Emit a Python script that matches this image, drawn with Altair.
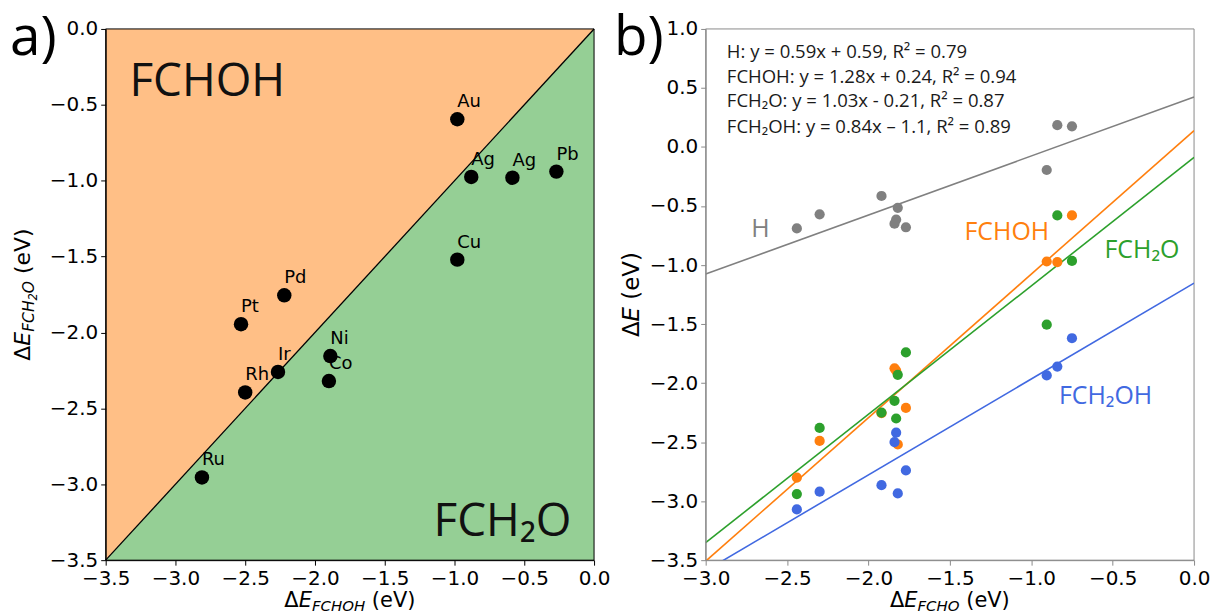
import altair as alt
import pandas as pd

# ---------------- Panel a data ----------------
metals_a = ["Au", "Ag", "Ag", "Pb", "Cu", "Pd", "Pt", "Ir", "Rh", "Ni", "Co", "Ru"]
fchoh_a = [-0.98, -0.88, -0.585, -0.27, -0.98, -2.22, -2.53, -2.265, -2.50, -1.89, -1.90, -2.81]
fch2o_a = [-0.595, -0.975, -0.98, -0.94, -1.52, -1.755, -1.945, -2.26, -2.395, -2.155, -2.32, -2.955]
boundary_x = [-3.5, 0.0]
boundary_top = [0.0, 0.0]
boundary_bottom = [-3.5, -3.5]
region_text = ["FCHOH", "FCH\u2082O"]
region_x = [-3.33, -1.15]
region_y = [-0.44, -3.34]
ticks_a_x = [-3.5, -3.0, -2.5, -2.0, -1.5, -1.0, -0.5, 0.0]
ticks_a_y = [-3.5, -3.0, -2.5, -2.0, -1.5, -1.0, -0.5, 0.0]

# ---------------- Panel b data ----------------
metals_b = ["Ru", "Rh", "Ir", "Ni", "Co", "Pt", "Pd", "Cu", "Au", "Ag"]
fcho_b = [-2.44, -2.30, -1.92, -1.84, -1.83, -1.82, -1.77, -0.905, -0.84, -0.75]
h_b = [-0.69, -0.57, -0.415, -0.65, -0.615, -0.515, -0.68, -0.195, 0.185, 0.175]
fchoh_b = [-2.80, -2.49, -2.255, -1.875, -1.895, -2.52, -2.21, -0.97, -0.975, -0.58]
fch2o_b = [-2.94, -2.38, -2.25, -2.15, -2.30, -1.93, -1.74, -1.505, -0.58, -0.965]
fch2oh_b = [-3.07, -2.92, -2.865, -2.50, -2.42, -2.935, -2.74, -1.935, -1.86, -1.62]
series_names = ["H", "FCHOH", "FCH2O", "FCH2OH"]
series_colors = ["#808080", "#ff7f0e", "#2ca02c", "#4169e1"]
series_labels = ["H", "FCHOH", "FCH\u2082O", "FCH\u2082OH"]
label_x = [-2.72, -1.41, -0.55, -0.83]
label_y = [-0.76, -0.79, -0.94, -2.18]
equations = [
    "H: y = 0.59x + 0.59, R\u00b2 = 0.79",
    "FCHOH: y = 1.28x + 0.24, R\u00b2 = 0.94",
    "FCH\u2082O: y = 1.03x - 0.21, R\u00b2 = 0.87",
    "FCH\u2082OH: y = 0.84x \u2013 1.1, R\u00b2 = 0.89",
]
eq_x = [-2.87, -2.87, -2.87, -2.87]
eq_y = [0.755, 0.545, 0.335, 0.12]
ticks_b_x = [-3.0, -2.5, -2.0, -1.5, -1.0, -0.5, 0.0]
ticks_b_y = [-3.5, -3.0, -2.5, -2.0, -1.5, -1.0, -0.5, 0.0, 0.5, 1.0]

W, H = 490, 533
one = pd.DataFrame({"k": [0]})
SANS = "Open Sans, DejaVu Sans"

# --- helper for mathtext-like axis titles ---
DV = {"Δ": 0.684, "E": 0.632, "F": 0.575, "C": 0.698, "H": 0.752, "O": 0.787,
      " ": 0.318, "(": 0.390, ")": 0.390, "e": 0.615, "V": 0.684, "2": 0.636}


def wid(s, size):
    return sum(DV[c] for c in s) * size


def rich(pieces, ax, ay, angle=0):
    total = sum(wid(t, s) for t, s, _, _ in pieces)
    off = -total / 2
    layers = []
    for t, s, it, sh in pieces:
        if t.strip():
            layers.append(
                alt.Chart(one).mark_text(
                    text=t, font="DejaVu Sans", fontSize=s,
                    fontStyle="italic" if it else "normal",
                    align="left", baseline="alphabetic", angle=angle,
                    dx=off, dy=sh, color="black",
                ).encode(x=alt.value(ax), y=alt.value(ay))
            )
        off += wid(t, s)
    return layers


def axis(values, color):
    return alt.Axis(values=values, format=".1f", title=None, grid=False,
                    tickSize=5, tickColor=color, domainColor=color,
                    labelFont="DejaVu Sans", labelFontSize=20, labelColor="black",
                    labelPadding=3, labelFlush=False, labelOverlap=False, zindex=1)


TS, SS, SSS = 21, 15, 11  # title, subscript, sub-subscript sizes
YS, YSS, YSSS = 22, 15.5, 11.5

# ================= Panel a =================
df_a = pd.DataFrame({"x": fchoh_a, "y": fch2o_a, "metal": metals_a})
df_reg = pd.DataFrame({"x": boundary_x, "y": boundary_x, "top": boundary_top, "bottom": boundary_bottom})
df_rt = pd.DataFrame({"x": region_x, "y": region_y, "t": region_text})

xa = alt.X("x:Q", scale=alt.Scale(domain=[-3.5, 0], nice=False, zero=False), axis=axis(ticks_a_x, "black"))
ya = alt.Y("y:Q", scale=alt.Scale(domain=[-3.5, 0], nice=False, zero=False), axis=axis(ticks_a_y, "black"))

orange_area = alt.Chart(df_reg).mark_area(color="#ffbf86", opacity=1).encode(x=xa, y=ya, y2="top:Q")
green_area = alt.Chart(df_reg).mark_area(color="#95cf95", opacity=1).encode(x=xa, y=ya, y2="bottom:Q")
diag = alt.Chart(df_reg).mark_line(color="black", strokeWidth=1.3).encode(x=xa, y=ya)
pts_a = alt.Chart(df_a).mark_circle(size=210, color="black", opacity=1).encode(x=xa, y=ya)
lbl_a = alt.Chart(df_a).mark_text(font="DejaVu Sans", fontSize=18, color="black", align="left",
                                  baseline="alphabetic", dx=0, dy=-12).encode(x=xa, y=ya, text="metal:N")
big_a = alt.Chart(df_rt).mark_text(font=SANS, fontSize=46, color="#111111", align="left",
                                   baseline="alphabetic").encode(x=xa, y=ya, text="t:N")
frame_a = alt.Chart(one).mark_rect(filled=False, stroke="black", strokeWidth=1).encode(
    x=alt.value(0), x2=alt.value(W), y=alt.value(0), y2=alt.value(H))
tag_a = alt.Chart(one).mark_text(text="a)", font=SANS, fontSize=55, color="black", align="left",
                                 baseline="alphabetic").encode(x=alt.value(-96), y=alt.value(26))

left = alt.layer(
    orange_area, green_area, diag, pts_a, lbl_a, big_a, frame_a, tag_a,
    *rich([("Δ", TS, False, 0), ("E", TS, True, 0), ("FCHOH", SS, True, 4), (" ", TS, False, 0), ("(eV)", TS, False, 0)],
          W / 2, H + 47),
    *rich([("Δ", YS, False, 0), ("E", YS, True, 0), ("FCH", YSS, True, 4), ("2", YSSS, True, 7), ("O", YSS, True, 4),
           (" ", YS, False, 0), ("(eV)", YS, False, 0)], -76, H / 2, angle=270),
).properties(width=W, height=H)

# ================= Panel b =================
rows = []
for name, vals in zip(series_names, [h_b, fchoh_b, fch2o_b, fch2oh_b]):
    for m, xv, yv in zip(metals_b, fcho_b, vals):
        rows.append({"series": name, "metal": m, "x": xv, "y": yv})
df_b = pd.DataFrame(rows)
df_lab = pd.DataFrame({"series": series_names, "t": series_labels, "x": label_x, "y": label_y})
df_eq = pd.DataFrame({"t": equations, "x": eq_x, "y": eq_y})

GRAY = "#8a8a8a"
xb = alt.X("x:Q", scale=alt.Scale(domain=[-3.0, 0], nice=False, zero=False), axis=axis(ticks_b_x, GRAY))
yb = alt.Y("y:Q", scale=alt.Scale(domain=[-3.5, 1.0], nice=False, zero=False), axis=axis(ticks_b_y, GRAY))
cb = alt.Color("series:N", scale=alt.Scale(domain=series_names, range=series_colors), legend=None)

lines_b = alt.Chart(df_b).transform_regression("x", "y", groupby=["series"], extent=[-3.0, 0.0]).mark_line(
    clip=True, strokeWidth=1.6).encode(x=xb, y=yb, color=cb)
pts_b = alt.Chart(df_b).mark_circle(size=105, opacity=1).encode(x=xb, y=yb, color=cb)
lab_b = alt.Chart(df_lab).mark_text(font=SANS, fontSize=25, align="left", baseline="alphabetic").encode(
    x=xb, y=yb, text="t:N", color=cb)
eq_b = alt.Chart(df_eq).mark_text(font=SANS, fontSize=18.6, align="left", baseline="alphabetic",
                                  color="#1a1a1a").encode(x=xb, y=yb, text="t:N")
frame_b = alt.Chart(one).mark_rect(filled=False, stroke=GRAY, strokeWidth=1).encode(
    x=alt.value(0), x2=alt.value(W), y=alt.value(0), y2=alt.value(H))
tag_b = alt.Chart(one).mark_text(text="b)", font=SANS, fontSize=55, color="black", align="left",
                                 baseline="alphabetic").encode(x=alt.value(-92), y=alt.value(26))

right = alt.layer(
    frame_b, lines_b, pts_b, lab_b, eq_b, tag_b,
    *rich([("Δ", TS, False, 0), ("E", TS, True, 0), ("FCHO", SS, True, 4), (" ", TS, False, 0), ("(eV)", TS, False, 0)],
          W / 2, H + 47),
    *rich([("Δ", 23, False, 0), ("E", 23, True, 0), (" ", 23, False, 0), ("(eV)", 23, False, 0)], -67, H / 2, angle=270),
).properties(width=W, height=H)

chart = alt.hconcat(left, right, spacing=112, bounds="flush").properties(
    padding={"left": 2, "top": 2, "right": 0, "bottom": 0}
).configure_view(stroke=None)

chart.save("out.html", embed_options={"renderer": "svg", "actions": False})
